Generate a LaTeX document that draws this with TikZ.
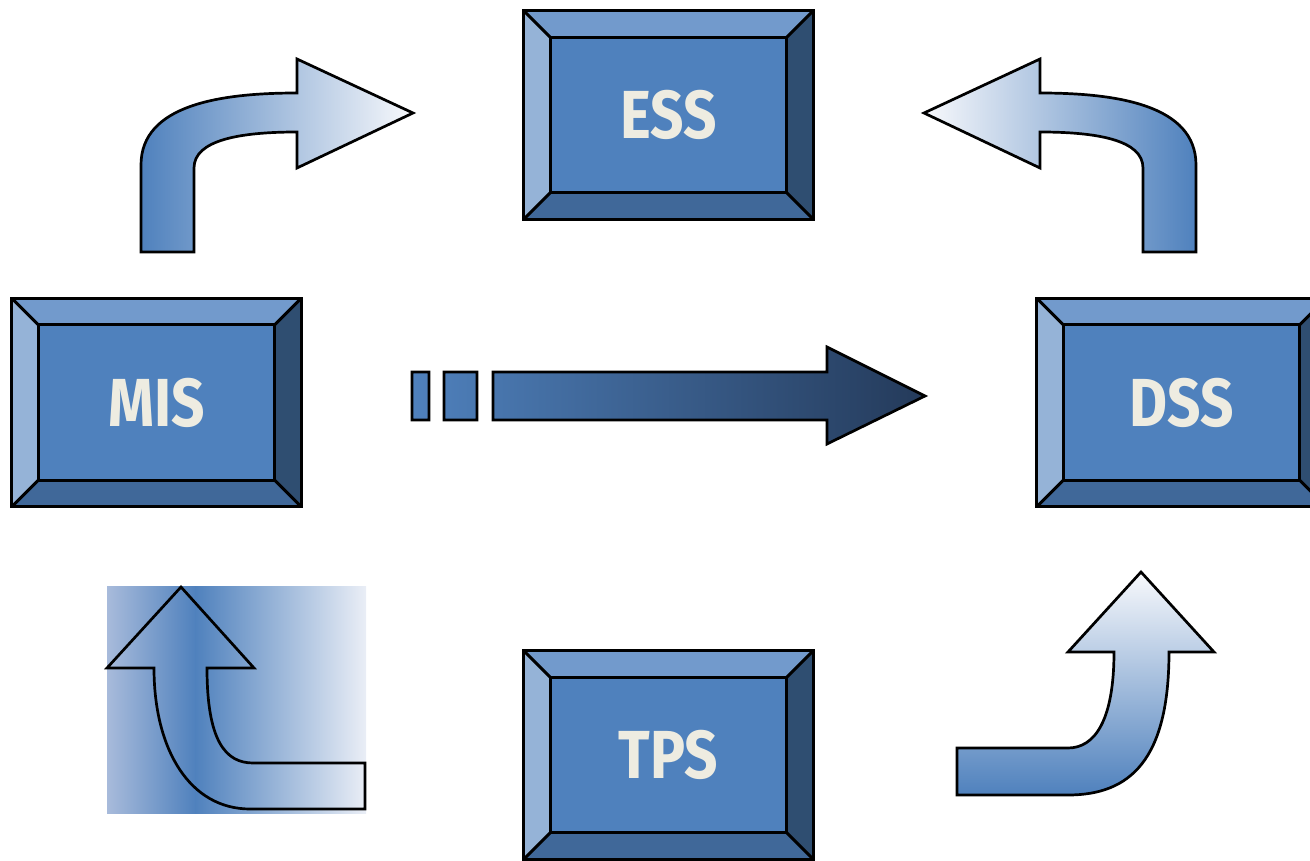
\documentclass[tikz,border=0pt]{standalone}
\usepackage{fontspec}
\newfontfamily\lblfont[FakeStretch=0.86]{Fira Sans}
\usetikzlibrary{calc}

\definecolor{bxface}{HTML}{4F81BD}
\definecolor{bxtop}{HTML}{729ACC}
\definecolor{bxleft}{HTML}{95B3D7}
\definecolor{bxbottom}{HTML}{406899}
\definecolor{bxright}{HTML}{2F4E71}
\definecolor{bxtext}{HTML}{EEECE1}
\definecolor{arrdark}{HTML}{243A5A}
\definecolor{arrmid}{HTML}{41699B}
\definecolor{paleblue}{HTML}{CDD7EA}
\definecolor{palestart}{HTML}{A8BBDB}
\definecolor{paleend}{HTML}{EAEEF6}
\definecolor{tipwhite}{HTML}{F8F9FC}

\tikzset{
  edge/.style={draw=black, line width=2.9pt, line join=miter},
  boxface/.style={rectangle, fill=bxface, minimum width=236pt, minimum height=155pt,
    inner sep=0pt, text=bxtext, text height=47pt, text depth=0pt,
    font=\lblfont\bfseries\fontsize{68}{68}\selectfont},
  bigarrow/.style={edge, line width=2.7pt},
}

% bevelled key: #1 name, #2 centre, #3 label
\newcommand\bevelbox[3]{%
  \node[boxface] (#1) at (#2) {#3};
  \path (#1.north west) ++(-26.5,-26.5) coordinate (#1-onw)
        (#1.north east) ++(26.5,-26.5)  coordinate (#1-one)
        (#1.south east) ++(26.5,26.5)   coordinate (#1-ose)
        (#1.south west) ++(-26.5,26.5)  coordinate (#1-osw);
  \fill[bxtop] (#1-onw) -- (#1-one) -- (#1.north east) -- (#1.north west) -- cycle;
  \fill[bxleft] (#1-onw) -- (#1.north west) -- (#1.south west) -- (#1-osw) -- cycle;
  \fill[bxbottom] (#1-osw) -- (#1.south west) -- (#1.south east) -- (#1-ose) -- cycle;
  \fill[bxright] (#1-one) -- (#1-ose) -- (#1.south east) -- (#1.north east) -- cycle;
  \draw[edge] (#1-onw) rectangle (#1-ose);
  \draw[edge] (#1.north west) rectangle (#1.south east);
  \draw[edge] (#1-onw) -- (#1.north west) (#1-one) -- (#1.north east)
              (#1-ose) -- (#1.south east) (#1-osw) -- (#1.south west);
}

\begin{document}
\begin{tikzpicture}[x=1pt, y=-1pt]
  \useasboundingbox (0,0) rectangle (1310,861);
  \clip (0,0) rectangle (1310,861);

  % the four systems
  \bevelbox{ess}{668.5,115}{ESS}
  \bevelbox{mis}{156.5,402.5}{MIS}
  \bevelbox{dss}{1181.5,402.5}{DSS}
  \bevelbox{tps}{668.5,755}{TPS}

  % MIS up to ESS
  \path[bigarrow, left color=bxface, middle color=paleblue, right color=tipwhite]
    (141,252) -- (141,165) .. controls (141,105) and (220,93) .. (297,93)
    -- (297,59) -- (413,113) -- (297,168) -- (297,132)
    .. controls (240,132) and (194,140) .. (194,168) -- (194,252) -- cycle;

  % DSS up to ESS
  \path[bigarrow, left color=tipwhite, middle color=paleblue, right color=bxface]
    (1196,252) -- (1196,165) .. controls (1196,105) and (1117,93) .. (1040,93)
    -- (1040,59) -- (924,113) -- (1040,168) -- (1040,132)
    .. controls (1097,132) and (1143,140) .. (1143,168) -- (1143,252) -- cycle;

  % MIS across to DSS
  \path[bigarrow, left color=bxface, middle color=arrmid, right color=arrdark]
    (412,372) rectangle (429,420)
    (444,372) rectangle (477,420)
    (493,372) -- (827,372) -- (827,347) -- (925,396) -- (827,444)
    -- (827,420) -- (493,420) -- cycle;

  % TPS up to MIS, on its shaded panel
  \fill[left color=palestart, right color=bxface] (107,586) rectangle (195.5,813);
  \fill[left color=bxface, right color=paleend] (195,586) rectangle (366,813);
  \draw[bigarrow]
    (181,587) -- (254,668) -- (207,668) .. controls (207,740) and (225,763) .. (253,763)
    -- (365,763) -- (365,809) -- (250,809) .. controls (190,809) and (154,750) .. (154,668)
    -- (107,668) -- cycle;

  % TPS up to DSS
  \path[bigarrow, top color=tipwhite, middle color=paleblue, bottom color=bxface]
    (1141,572) -- (1214,652) -- (1169,652) .. controls (1169,760) and (1130,795) .. (1068,795)
    -- (957,795) -- (957,748) -- (1068,748) .. controls (1095,748) and (1114,720) .. (1114,652)
    -- (1068,652) -- cycle;
\end{tikzpicture}
\end{document}
